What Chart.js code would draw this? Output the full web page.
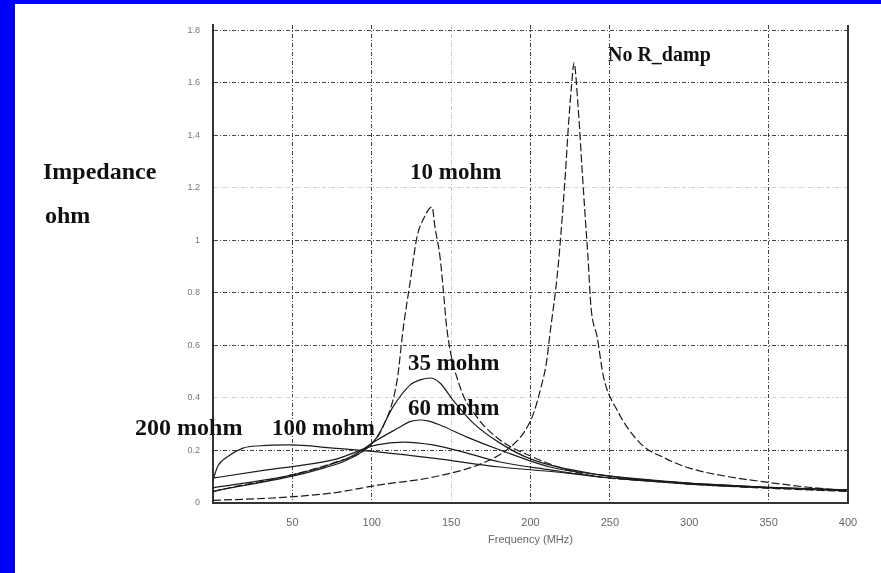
<!DOCTYPE html>
<html>
<head>
<meta charset="utf-8">
<script src="https://cdn.jsdelivr.net/npm/chart.js@4"></script>
<style>
html, body { margin: 0; padding: 0; background: #0000ff; }
#wrap { position: absolute; left: 15px; top: 4px; width: 866px; height: 569px; background: #fff; }
</style>
</head>
<body>
<div id="wrap"><canvas id="impedanceChart"></canvas></div>
<script>
// Impedance (ohm) vs frequency (MHz), one pair of arrays per damping value
var freq_nodamp = [0, 40, 75, 105, 139, 170, 185, 196, 202, 207, 210, 212, 217, 220, 222, 224, 226, 227.4, 230, 232.4, 234.3, 236.2, 238.1, 242, 246, 254.5, 269, 285, 300, 325, 353, 375, 400];
var z_nodamp = [0.01, 0.02, 0.038, 0.069, 0.099, 0.152, 0.202, 0.27, 0.343, 0.45, 0.533, 0.632, 0.876, 1.089, 1.257, 1.447, 1.599, 1.676, 1.508, 1.28, 1.104, 0.937, 0.746, 0.632, 0.48, 0.354, 0.228, 0.17, 0.133, 0.1, 0.076, 0.06, 0.046];

var freq_10m = [0, 4.4, 44, 75.6, 97, 107, 116, 119.7, 124.1, 128.5, 132.3, 138, 139.8, 143, 144.9, 147.4, 155.6, 166.3, 180.8, 201.6, 223, 243.8, 272, 300, 350, 400];
var z_10m = [0.042, 0.05, 0.099, 0.152, 0.209, 0.289, 0.468, 0.659, 0.838, 1.013, 1.078, 1.127, 1.051, 0.937, 0.823, 0.659, 0.442, 0.327, 0.24, 0.175, 0.126, 0.099, 0.085, 0.072, 0.056, 0.044];

var freq_35m = [0, 4.4, 65.5, 92.6, 103.3, 113.4, 124.1, 131, 136.7, 143, 151.2, 163.8, 180.8, 201.6, 243.8, 272, 300, 350, 400];
var z_35m = [0.045, 0.05, 0.126, 0.19, 0.251, 0.366, 0.449, 0.47, 0.476, 0.457, 0.392, 0.305, 0.228, 0.164, 0.107, 0.088, 0.075, 0.058, 0.046];

var freq_60m = [0, 4.4, 54.8, 86.3, 103.3, 117.8, 124, 130.4, 136, 143, 160, 180.8, 212.3, 243.8, 272, 300, 350, 400];
var z_60m = [0.058, 0.062, 0.114, 0.175, 0.24, 0.289, 0.31, 0.316, 0.312, 0.297, 0.251, 0.202, 0.137, 0.107, 0.09, 0.076, 0.06, 0.048];

var freq_100m = [0, 4.4, 34, 75.6, 103.3, 119.7, 138.6, 160, 180.8, 212.3, 243.8, 272, 300, 350, 400];
var z_100m = [0.095, 0.099, 0.126, 0.164, 0.221, 0.232, 0.221, 0.19, 0.156, 0.126, 0.099, 0.085, 0.075, 0.06, 0.05];

var freq_200m = [0, 3, 8.8, 18.9, 30, 48.5, 75.6, 105.2, 138.6, 180.8, 223, 243.8, 272, 300, 350, 400];
var z_200m = [0.088, 0.14, 0.175, 0.209, 0.218, 0.221, 0.209, 0.194, 0.171, 0.137, 0.114, 0.099, 0.085, 0.072, 0.058, 0.05];

var x_ticks = [50, 100, 150, 200, 250, 300, 350, 400];
var y_ticks = [0, 0.2, 0.4, 0.6, 0.8, 1, 1.2, 1.4, 1.6, 1.8];
var y_tick_labels = ['0', '0.2', '0.4', '0.6', '0.8', '1', '1.2', '1.4', '1.6', '1.8'];

function pairs(xs, ys)
{
    return xs.map(function(x, i) { return {x: x, y: ys[i]}; });
}

function curve(label, xs, ys, dash)
{
    return {
        label: label,
        data: pairs(xs, ys),
        borderColor: '#1c1c1c',
        borderWidth: 1.2,
        borderDash: dash,
        pointRadius: 0,
        fill: false,
        cubicInterpolationMode: 'monotone'
    };
}

// text put on the plot, anchored in data units
var curve_labels = [
    {text: 'No R_damp', f: 248.8, z: 1.683, size: 20},
    {text: '10 mohm', f: 124.1, z: 1.234, size: 23},
    {text: '35 mohm', f: 122.8, z: 0.506, size: 23},
    {text: '60 mohm', f: 122.8, z: 0.335, size: 23},
    {text: '100 mohm', f: 37.2, z: 0.259, size: 23},
    {text: '200 mohm', f: -49.1, z: 0.259, size: 24}
];

var labels_plugin = {
    id: 'curveLabels',
    afterDatasetsDraw: function(chart) {
        var ctx = chart.ctx;
        var area = chart.chartArea;
        var xs = chart.scales.x, ys = chart.scales.y;
        ctx.save();
        // right edge of the frame
        ctx.strokeStyle = '#333';
        ctx.lineWidth = 2;
        ctx.beginPath();
        ctx.moveTo(area.right, area.top);
        ctx.lineTo(area.right, area.bottom);
        ctx.stroke();
        ctx.fillStyle = '#111';
        ctx.textAlign = 'left';
        ctx.textBaseline = 'alphabetic';
        curve_labels.forEach(function(l) {
            ctx.font = 'bold ' + l.size + 'px "Liberation Serif"';
            ctx.fillText(l.text, xs.getPixelForValue(l.f), ys.getPixelForValue(l.z));
        });
        // axis name on the left
        ctx.font = 'bold 24px "Liberation Serif"';
        ctx.fillText('Impedance', 28, 175);
        ctx.fillText('ohm', 30, 219);
        ctx.restore();
    }
};

var faint_x = [150];
var hidden_x = [300];
var faint_y = [1.2, 0.4];

new Chart(document.getElementById('impedanceChart'), {
    type: 'line',
    data: {
        datasets: [
            curve('No R_damp', freq_nodamp, z_nodamp, [8, 3]),
            curve('10 mohm', freq_10m, z_10m, [8, 3]),
            curve('35 mohm', freq_35m, z_35m, []),
            curve('60 mohm', freq_60m, z_60m, []),
            curve('100 mohm', freq_100m, z_100m, []),
            curve('200 mohm', freq_200m, z_200m, [])
        ]
    },
    options: {
        responsive: true,
        maintainAspectRatio: false,
        animation: false,
        layout: { padding: { left: 0, right: 33, top: 21, bottom: 20 } },
        plugins: {
            legend: { display: false },
            tooltip: { enabled: false }
        },
        scales: {
            x: {
                type: 'linear',
                min: 0,
                max: 400,
                afterBuildTicks: function(s) { s.ticks = x_ticks.map(function(v) { return {value: v}; }); },
                afterFit: function(s) { s.height = 50; },
                grid: {
                    drawTicks: false,
                    lineWidth: 1,
                    color: function(c) {
                        var v = c.tick ? c.tick.value : null;
                        if (hidden_x.indexOf(v) >= 0) return 'rgba(0,0,0,0)';
                        if (faint_x.indexOf(v) >= 0) return '#c8c8c8';
                        return '#444';
                    }
                },
                border: { display: true, color: '#333', width: 2, dash: [4, 2, 1, 2] },
                ticks: {
                    padding: 13,
                    maxRotation: 0,
                    color: '#666',
                    font: { family: 'Liberation Sans', size: 11 },
                    callback: function(v) { return String(v); }
                },
                title: {
                    display: true,
                    text: 'Frequency (MHz)',
                    color: '#666',
                    font: { family: 'Liberation Sans', size: 11 },
                    padding: { top: 0, bottom: 6 }
                }
            },
            y: {
                type: 'linear',
                min: 0,
                max: 1.82,
                afterBuildTicks: function(s) { s.ticks = y_ticks.map(function(v) { return {value: v}; }); },
                afterFit: function(s) { s.width = 198; },
                grid: {
                    drawTicks: false,
                    lineWidth: 1,
                    color: function(c) {
                        var v = c.tick ? c.tick.value : null;
                        if (faint_y.indexOf(v) >= 0) return '#d0d0d0';
                        return '#444';
                    }
                },
                border: { display: true, color: '#333', width: 2, dash: [4, 2, 1, 2] },
                ticks: {
                    padding: 13,
                    color: '#777',
                    font: { family: 'Liberation Sans', size: 9 },
                    callback: function(v, i) { return y_tick_labels[i]; }
                }
            }
        }
    },
    plugins: [labels_plugin]
});
</script>
</body>
</html>
